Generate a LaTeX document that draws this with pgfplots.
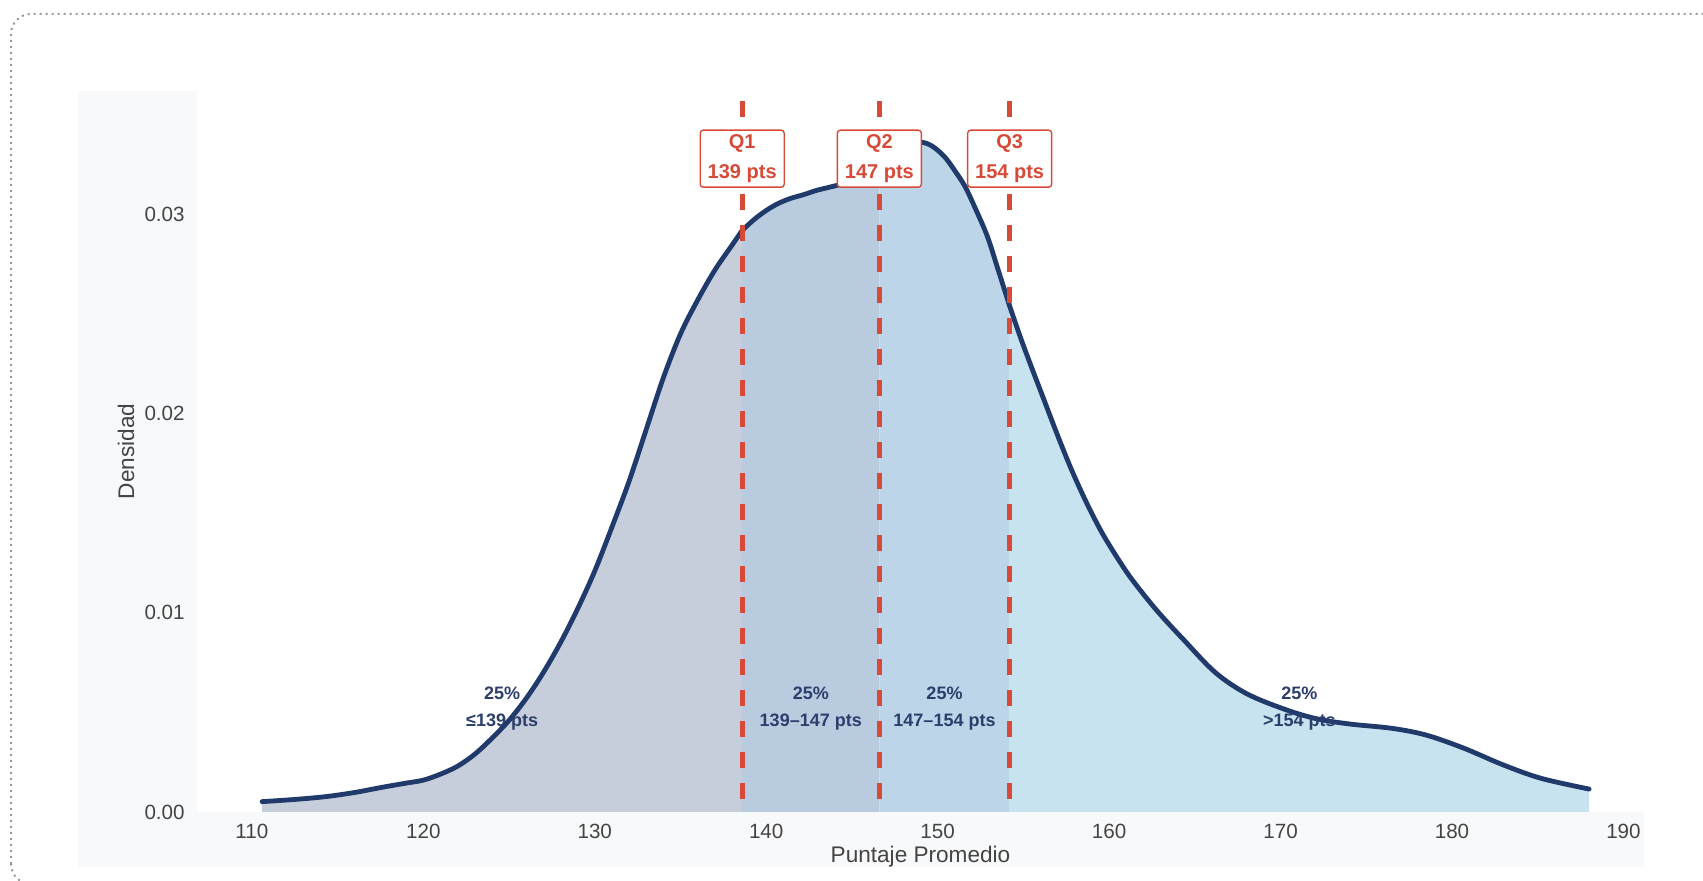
\documentclass[border=0pt]{standalone}
\usepackage{fontspec}
\setmainfont{Liberation Sans}
\usepackage{pgfplots}
\pgfplotsset{compat=1.18}
\usepackage{pgfplotstable}

\definecolor{navy}{HTML}{1F3A6B}
\definecolor{qred}{HTML}{D84A38}
\definecolor{zonetxt}{HTML}{2C3E6B}
\definecolor{ticktxt}{HTML}{444444}
\definecolor{paper}{HTML}{F8F9FA}
\definecolor{fillA}{HTML}{C7CEDB}
\definecolor{fillB}{HTML}{B9CBDF}
\definecolor{fillC}{HTML}{BCD5E8}
\definecolor{fillD}{HTML}{C6E3EF}

% density curve, split at the quartiles
\pgfplotstableread{
x y
110.6 0.00052
112.5 0.00063
114.3 0.00077
116.0 0.00098
117.6 0.00124
119.0 0.00145
120.0 0.00160
121.0 0.00190
122.0 0.00230
123.0 0.00290
124.0 0.00370
125.0 0.00460
126.0 0.00570
127.0 0.00700
128.0 0.00850
129.0 0.01020
130.0 0.01210
131.0 0.01430
132.0 0.01660
133.0 0.01920
134.0 0.02180
135.0 0.02400
136.0 0.02570
137.0 0.02720
138.0 0.02845
138.6 0.02920
}\densA
\pgfplotstableread{
x y
138.6 0.02920
139.3 0.02975
140.0 0.03020
140.7 0.03055
141.4 0.03080
142.2 0.03100
142.9 0.03120
143.6 0.03135
144.3 0.03150
145.1 0.03170
145.9 0.03195
146.6 0.03225
}\densB
\pgfplotstableread{
x y
146.6 0.03225
147.3 0.03262
148.0 0.03305
148.6 0.03350
149.1 0.03362
149.7 0.03342
150.4 0.03290
151.0 0.03220
151.6 0.03140
152.2 0.03030
152.9 0.02890
153.5 0.02730
154.2 0.02540
}\densC
\pgfplotstableread{
x y
154.2 0.02540
154.8 0.02390
155.4 0.02250
156.2 0.02070
157.0 0.01890
157.8 0.01720
158.7 0.01550
159.6 0.01400
160.6 0.01260
161.4 0.01160
162.8 0.01010
164.4 0.00860
166.2 0.00700
168.0 0.00595
170.1 0.00520
172.0 0.00470
174.0 0.00442
176.5 0.00420
178.5 0.00386
180.7 0.00320
183.0 0.00236
185.2 0.00169
188.0 0.00115
}\densD

\begin{document}
\begin{tikzpicture}
% paper background behind the plot
\fill[paper] (39pt,7pt) rectangle (822pt,395pt);

\begin{axis}[
  at={(98.5pt,34.5pt)}, anchor=south west,
  scale only axis,
  width=723.5pt, height=360.5pt,
  xmin=106.8, xmax=191.2,
  ymin=0, ymax=0.0362,
  clip=false,
  axis background/.style={fill=white},
  axis line style={draw=none},
  major tick style={draw=none},
  xtick={110,120,...,190},
  ytick={0,0.01,0.02,0.03},
  scaled y ticks=false,
  /pgf/number format/assume math mode=true,
  yticklabel style={/pgf/number format/fixed, /pgf/number format/fixed zerofill,
    /pgf/number format/precision=2, anchor=east, inner sep=0pt, xshift=-6pt},
  xticklabel style={anchor=north, inner sep=0pt, yshift=-6pt},
  ticklabel style={font=\fontsize{10.3}{12}\selectfont, text=ticktxt},
  xlabel={Puntaje Promedio},
  ylabel={Densidad},
  xlabel style={at={(axis description cs:0.5,-0.0624)}, anchor=center, inner sep=0pt,
    font=\fontsize{11.3}{13}\selectfont, text=ticktxt},
  ylabel style={at={(axis description cs:-0.049,0.5)}, anchor=center, inner sep=0pt,
    font=\fontsize{11.3}{13}\selectfont, text=ticktxt},
  densline/.style={navy, line width=2.4pt, line join=round, smooth, tension=0.55},
]
\addplot[fill=fillA, draw=none, smooth, tension=0.55] table {\densA} \closedcycle;
\addplot[fill=fillB, draw=none, smooth, tension=0.55] table {\densB} \closedcycle;
\addplot[fill=fillC, draw=none, smooth, tension=0.55] table {\densC} \closedcycle;
\addplot[fill=fillD, draw=none, smooth, tension=0.55] table {\densD} \closedcycle;

\addplot[densline, line cap=round] table {\densA};
\addplot[densline] table {\densB};
\addplot[densline] table {\densC};
\addplot[densline, line cap=round] table {\densD};

% quartile lines
\addplot[qred, line width=2.3pt, dash pattern=on 8pt off 7.5pt] coordinates {(138.6,0.0357) (138.6,0)};
\addplot[qred, line width=2.3pt, dash pattern=on 8pt off 7.5pt] coordinates {(146.6,0.0357) (146.6,0)};
\addplot[qred, line width=2.3pt, dash pattern=on 8pt off 7.5pt] coordinates {(154.2,0.0357) (154.2,0)};

% quartile boxes
\tikzset{qbox/.style={draw=qred, line width=0.7pt, fill=white, rounded corners=1.5pt,
  minimum width=42pt, minimum height=28.5pt, inner sep=1pt, align=center,
  text=qred, font=\bfseries\fontsize{10}{15}\selectfont}}
\node[qbox] at (axis cs:138.6,0.0328) {Q1\\139 pts};
\node[qbox] at (axis cs:146.6,0.0328) {Q2\\147 pts};
\node[qbox] at (axis cs:154.2,0.0328) {Q3\\154 pts};

% zone labels
\tikzset{zone/.style={align=center, text=zonetxt, font=\bfseries\fontsize{9}{13.5}\selectfont}}
\node[zone] at (axis cs:124.6,0.0052) {25\%\\≤139 pts};
\node[zone] at (axis cs:142.6,0.0052) {25\%\\139–147 pts};
\node[zone] at (axis cs:150.4,0.0052) {25\%\\147–154 pts};
\node[zone] at (axis cs:171.1,0.0052) {25\%\\>154 pts};
\end{axis}

% outer dotted frame, cut at the picture's edge
\begin{scope}
\clip (0,0) rectangle (851.5pt,440.5pt);
\draw[gray!80, line width=1pt, dash pattern=on 1pt off 2pt, rounded corners=10pt]
  (5.5pt,-1.5pt) rectangle (862pt,433.5pt);
\end{scope}
\pgfresetboundingbox
\useasboundingbox (0,0) rectangle (851.5pt,440.5pt);
\end{tikzpicture}
\end{document}
